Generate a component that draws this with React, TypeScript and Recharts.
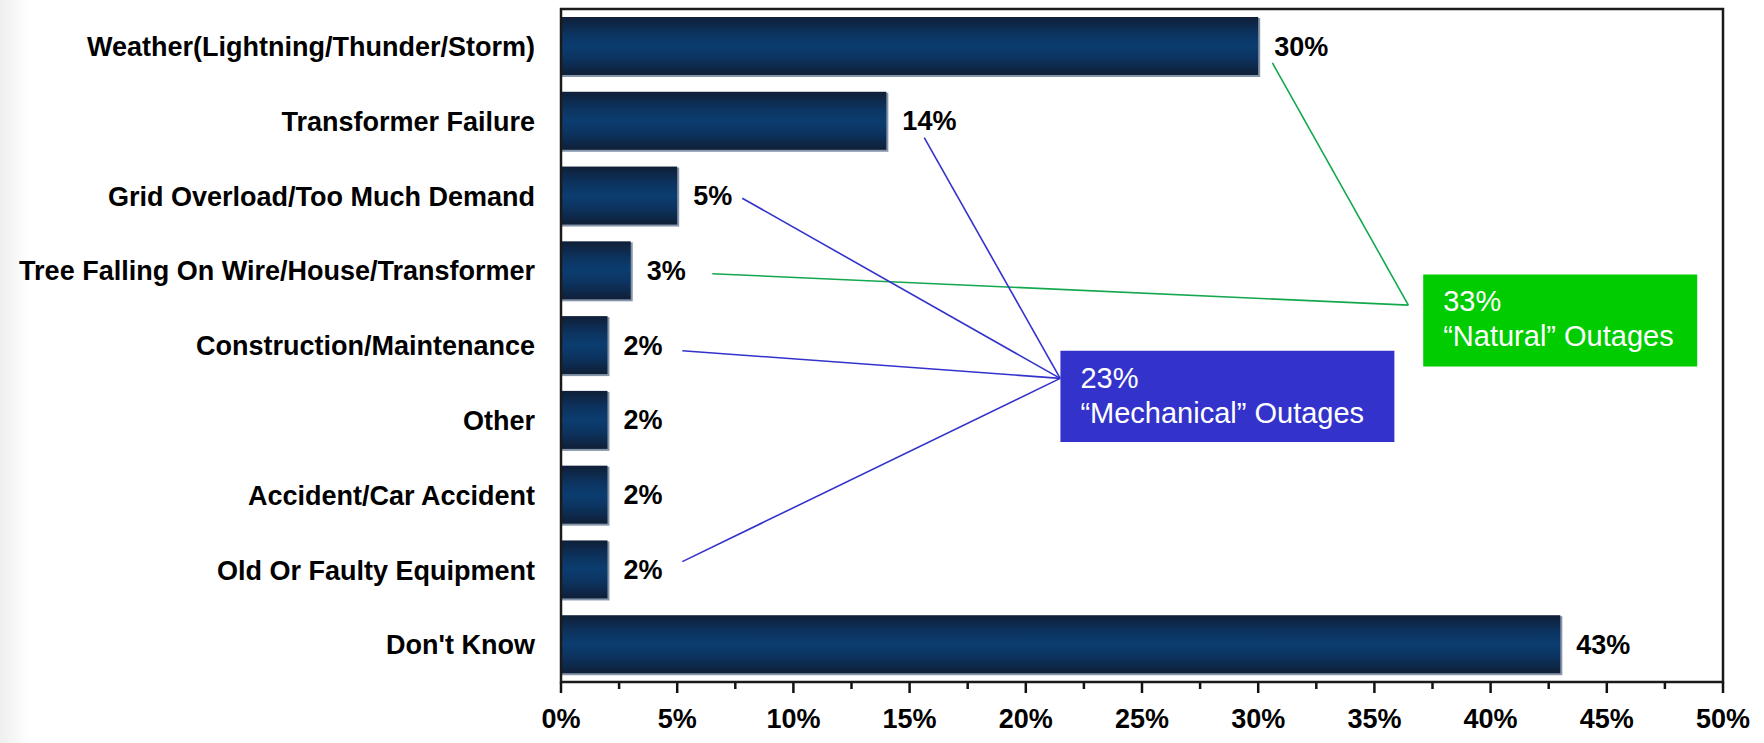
import React from 'react';
import { BarChart, Bar, XAxis, YAxis, LabelList, ReferenceLine, ReferenceArea, ComposedChart } from 'recharts';

const categories = [
  'Weather(Lightning/Thunder/Storm)',
  'Transformer Failure',
  'Grid Overload/Too Much Demand',
  'Tree Falling On Wire/House/Transformer',
  'Construction/Maintenance',
  'Other',
  'Accident/Car Accident',
  'Old Or Faulty Equipment',
  "Don't Know",
];
const values = [30, 14, 5, 3, 2, 2, 2, 2, 43];
const xTicks = [0, 2.5, 5, 7.5, 10, 12.5, 15, 17.5, 20, 22.5, 25, 27.5, 30, 32.5, 35, 37.5, 40, 42.5, 45, 47.5, 50];
const majorTicks = [0, 5, 10, 15, 20, 25, 30, 35, 40, 45, 50];

// annotation geometry in data units (x: percent, y: row position 0..9 from top)
const greenLines = [
  { x1: 30.61, y1: 0.72, x2: 36.46, y2: 3.96 },
  { x1: 6.51, y1: 3.54, x2: 36.46, y2: 3.96 },
];
const blueLines = [
  { x1: 15.63, y1: 1.72, x2: 21.48, y2: 4.94 },
  { x1: 7.8, y1: 2.53, x2: 21.48, y2: 4.94 },
  { x1: 5.22, y1: 4.57, x2: 21.48, y2: 4.94 },
  { x1: 5.22, y1: 7.39, x2: 21.48, y2: 4.94 },
];
const boxes = [
  { x1: 37.1, x2: 48.89, y1: 3.55, y2: 4.78, fill: '#00CC00', lines: ['33%', '\u201CNatural\u201D Outages'] },
  { x1: 21.49, x2: 35.86, y1: 4.57, y2: 5.79, fill: '#3333CC', lines: ['23%', '\u201CMechanical\u201D Outages'] },
];
const overlayDomainX = [0, 50];
const overlayDomainY = [0, 9];

const data = categories.map((name, i) => ({ name, value: values[i] }));
const overlayData = [
  { x: overlayDomainX[0], y: overlayDomainY[0] },
  { x: overlayDomainX[1], y: overlayDomainY[1] },
];

const FONT = '"Liberation Sans", Arial, Helvetica, sans-serif';
const W = 1764;
const H = 743;
const MARGIN = { top: 9, right: 41, left: 0, bottom: 0 };
const Y_AXIS_W = 561;
const X_AXIS_H = 61;

const BarShape = (props: any) => {
  const { x, y, width, height } = props;
  if (!width || width <= 0) return null;
  return (
    <g>
      <rect x={x + 1} y={y + 1} width={width + 1} height={height + 1} fill="#8595aa" />
      <rect x={x} y={y} width={width} height={height} fill="url(#barGrad)" />
    </g>
  );
};

const YTick = (props: any) => {
  const { x, y, payload } = props;
  return (
    <text x={x - 26} y={y} dy="0.36em" textAnchor="end" fontFamily={FONT} fontWeight="bold" fontSize={27} fill="#000">
      {payload.value}
    </text>
  );
};

const XTick = (props: any) => {
  const { x, y, payload } = props;
  const major = majorTicks.includes(payload.value);
  return (
    <g>
      <line x1={x} x2={x} y1={y} y2={y + (major ? 11 : 7)} stroke="#111" strokeWidth={2.5} />
      {major && (
        <text x={x} y={y + 36} dy="0.36em" textAnchor="middle" fontFamily={FONT} fontWeight="bold" fontSize={27} fill="#000">
          {payload.value + '%'}
        </text>
      )}
    </g>
  );
};

const BoxText = (props: any) => {
  const { viewBox, lines } = props;
  if (!viewBox) return null;
  const { x, y } = viewBox;
  return (
    <text fontFamily={FONT} fontSize={29} fill="#fff">
      {lines.map((l: string, i: number) => (
        <tspan key={i} x={x + 20} y={y + 37 + i * 35}>
          {l}
        </tspan>
      ))}
    </text>
  );
};

export default function App() {
  return (
    <div
      style={{
        position: 'relative',
        width: W,
        height: H,
        background: 'linear-gradient(90deg, #efefef 0px, #ffffff 30px)',
      }}
    >
      <style>{`body{margin:0;}`}</style>
      <BarChart width={W} height={H} data={data} layout="vertical" margin={MARGIN} barCategoryGap={0}>
        <defs>
          <linearGradient id="barGrad" x1="0" y1="0" x2="0" y2="1">
            <stop offset="0" stopColor="#0f1f37" />
            <stop offset="0.3" stopColor="#0c3461" />
            <stop offset="0.5" stopColor="#0b3d6f" />
            <stop offset="0.7" stopColor="#0c3461" />
            <stop offset="1" stopColor="#0f1f37" />
          </linearGradient>
        </defs>
        <XAxis
          type="number"
          domain={overlayDomainX}
          ticks={xTicks}
          interval={0}
          tickLine={false}
          axisLine={false}
          tickSize={0}
          tickMargin={0}
          height={X_AXIS_H}
          tick={<XTick />}
          allowDataOverflow
        />
        <YAxis
          type="category"
          dataKey="name"
          width={Y_AXIS_W}
          tickLine={false}
          axisLine={false}
          tickSize={0}
          tickMargin={0}
          interval={0}
          tick={<YTick />}
        />
        <Bar dataKey="value" barSize={58} shape={<BarShape />} isAnimationActive={false}>
          <LabelList
            dataKey="value"
            position="right"
            offset={16}
            formatter={(v: any) => v + '%'}
            style={{ fontFamily: FONT, fontWeight: 'bold', fontSize: 27, fill: '#000' }}
          />
        </Bar>
      </BarChart>
      <div style={{ position: 'absolute', left: 0, top: 0, pointerEvents: 'none' }}>
        <ComposedChart
          width={W}
          height={H}
          data={overlayData}
          margin={{ top: MARGIN.top, right: MARGIN.right, left: Y_AXIS_W, bottom: X_AXIS_H }}
        >
          <XAxis type="number" dataKey="x" domain={overlayDomainX} hide allowDataOverflow />
          <YAxis type="number" dataKey="y" domain={overlayDomainY} reversed hide allowDataOverflow />
          <ReferenceArea
            x1={overlayDomainX[0]}
            x2={overlayDomainX[1]}
            y1={overlayDomainY[0]}
            y2={overlayDomainY[1]}
            fill="none"
            fillOpacity={0}
            stroke="#1a1a1a"
            strokeWidth={2.5}
            ifOverflow="visible"
          />
          {greenLines.map((s, i) => (
            <ReferenceLine
              key={'g' + i}
              segment={[{ x: s.x1, y: s.y1 }, { x: s.x2, y: s.y2 }]}
              stroke="#14a84e"
              strokeWidth={1.6}
              ifOverflow="visible"
            />
          ))}
          {blueLines.map((s, i) => (
            <ReferenceLine
              key={'b' + i}
              segment={[{ x: s.x1, y: s.y1 }, { x: s.x2, y: s.y2 }]}
              stroke="#3333CC"
              strokeWidth={1.6}
              ifOverflow="visible"
            />
          ))}
          {boxes.map((b, i) => (
            <ReferenceArea
              key={'box' + i}
              x1={b.x1}
              x2={b.x2}
              y1={b.y1}
              y2={b.y2}
              fill={b.fill}
              fillOpacity={1}
              stroke="none"
              ifOverflow="visible"
              label={<BoxText lines={b.lines} />}
            />
          ))}
        </ComposedChart>
      </div>
    </div>
  );
}
